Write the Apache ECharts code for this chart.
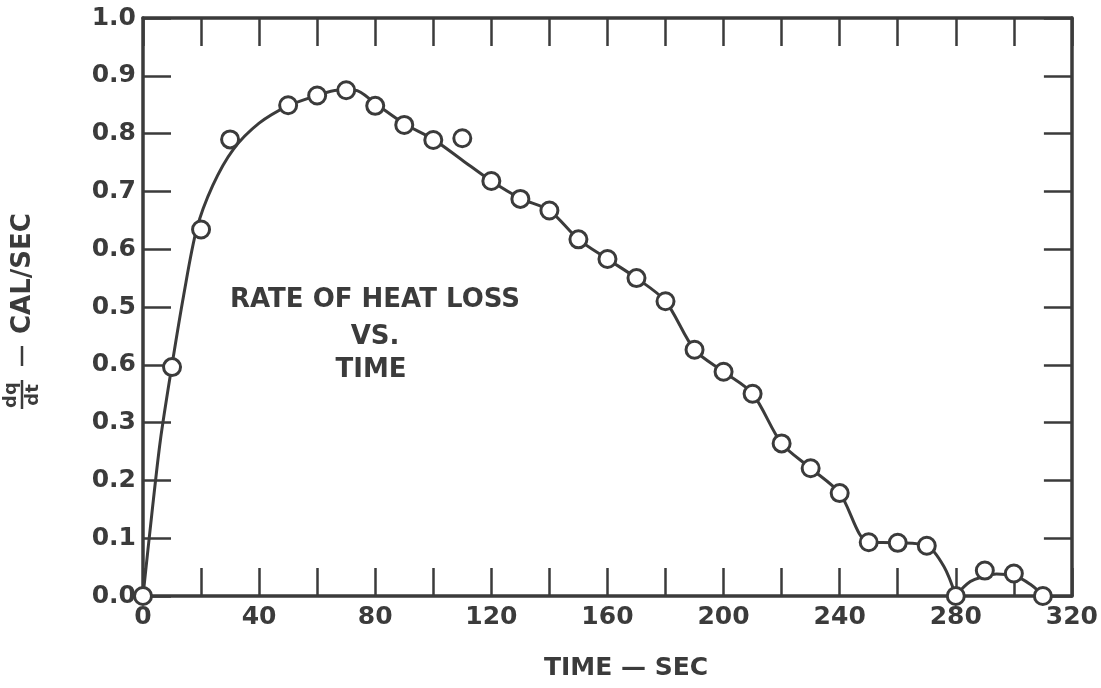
<!DOCTYPE html>
<html>
<head>
<meta charset="utf-8">
<title>Rate of heat loss vs. time</title>
<script src="https://cdn.jsdelivr.net/npm/echarts@6/dist/echarts.min.js"></script>
<style>
  html, body { margin: 0; padding: 0; background: #fff; }
  #main { width: 1101px; height: 688px; }
</style>
</head>
<body>
<div id="main"></div>
<script>
// measured points (circles)
const timeSec = [0, 10, 20, 30, 50, 60, 70, 80, 90, 100, 110, 120, 130, 140, 150, 160, 170, 180, 190, 200, 210, 220, 230, 240, 250, 260, 270, 280, 290, 300, 310];
const heatRate = [0, 0.396, 0.634, 0.79, 0.849, 0.866, 0.875, 0.848, 0.815, 0.789, 0.792, 0.718, 0.687, 0.667, 0.617, 0.583, 0.55, 0.51, 0.426, 0.388, 0.35, 0.264, 0.221, 0.178, 0.093, 0.092, 0.087, 0, 0.044, 0.039, 0];

// hand drawn curve
const curveX = [0, 3, 6, 10, 14, 18.5, 24, 31, 40, 50, 60, 67, 73, 80, 90, 100, 110, 120, 130, 140, 150, 160, 170, 180, 190, 200, 210, 220, 230, 240, 250, 260, 270, 276, 280];
const curveY = [0, 0.14, 0.27, 0.40, 0.52, 0.635, 0.71, 0.772, 0.818, 0.848, 0.866, 0.875, 0.875, 0.852, 0.817, 0.79, 0.754, 0.718, 0.688, 0.667, 0.617, 0.583, 0.55, 0.51, 0.426, 0.388, 0.35, 0.264, 0.221, 0.178, 0.093, 0.092, 0.087, 0.05, 0];
const tailX = [280, 285, 290, 294, 300, 306, 310];
const tailY = [0, 0.025, 0.034, 0.038, 0.035, 0.019, 0];

// tick labels (the 0.4 position is printed as "0.6" in the original)
const xTickLabels = ['0', '40', '80', '120', '160', '200', '240', '280', '320'];
const yTickLabels = ['0.0', '0.1', '0.2', '0.3', '0.6', '0.5', '0.6', '0.7', '0.8', '0.9', '1.0'];
const titleLines = ['RATE OF HEAT LOSS', 'VS.', 'TIME'];

const ink = '#3b3b3b';
const font = '"DejaVu Sans", sans-serif';

function zip(xs, ys) {
  return xs.map(function (x, i) { return [x, ys[i]]; });
}

// frame axis: thick line, inward ticks, no labels
function frameAxis(pos, isX) {
  return {
    type: 'value',
    position: pos,
    min: 0,
    max: isX ? 320 : 1,
    interval: isX ? 20 : 0.1,
    axisLine: { show: true, onZero: false, lineStyle: { color: ink, width: 3.5 } },
    axisTick: { show: true, inside: true, length: 28, lineStyle: { color: ink, width: 2.5 } },
    axisLabel: { show: false },
    splitLine: { show: false }
  };
}

const xBottom = frameAxis('bottom', true);
xBottom.axisLabel = {
  show: true,
  margin: 9,
  fontSize: 25,
  fontFamily: font,
  fontWeight: 'bold',
  color: ink,
  formatter: function (v) {
    return v % 40 === 0 ? xTickLabels[v / 40] : '';
  }
};

const yLeft = frameAxis('left', false);
yLeft.axisLabel = {
  show: true,
  margin: 7,
  fontSize: 25,
  fontFamily: font,
  fontWeight: 'bold',
  color: ink,
  formatter: function (v) {
    return yTickLabels[Math.round(v * 10)];
  }
};

const option = {
  animation: false,
  backgroundColor: '#fff',
  grid: { left: 143, right: 28, top: 18, bottom: 92, containLabel: false },
  xAxis: [xBottom, frameAxis('top', true)],
  yAxis: [yLeft, frameAxis('right', false)],
  series: [
    {
      type: 'line',
      data: zip(curveX, curveY),
      smooth: 0.3,
      symbol: 'none',
      clip: false,
      lineStyle: { color: ink, width: 3 },
      z: 2
    },
    {
      type: 'line',
      data: zip(tailX, tailY),
      smooth: 0.4,
      symbol: 'none',
      clip: false,
      lineStyle: { color: ink, width: 3 },
      z: 2
    },
    {
      type: 'scatter',
      data: zip(timeSec, heatRate),
      symbol: 'circle',
      symbolSize: 17,
      clip: false,
      itemStyle: { color: '#fff', borderColor: ink, borderWidth: 3, opacity: 1 },
      z: 5
    }
  ],
  graphic: [
    { type: 'text', x: 375, y: 300, style: { text: titleLines[0], fill: ink, font: 'bold 26px ' + font, align: 'center', verticalAlign: 'middle' } },
    { type: 'text', x: 375, y: 337, style: { text: titleLines[1], fill: ink, font: 'bold 26px ' + font, align: 'center', verticalAlign: 'middle' } },
    { type: 'text', x: 371, y: 370, style: { text: titleLines[2], fill: ink, font: 'bold 26px ' + font, align: 'center', verticalAlign: 'middle' } },
    // x axis title
    { type: 'text', x: 626, y: 668, style: { text: 'TIME \u2014 SEC', fill: ink, font: 'bold 25px ' + font, align: 'center', verticalAlign: 'middle' } },
    {
      // y axis title: dq/dt - CAL/SEC, rotated
      type: 'group',
      x: 22,
      y: 410,
      rotation: Math.PI / 2,
      children: [
        { type: 'text', x: 15, y: -2, style: { text: 'dq', fill: ink, font: 'bold 18px ' + font, align: 'center', verticalAlign: 'bottom' } },
        { type: 'line', shape: { x1: 1, y1: 0, x2: 30, y2: 0 }, style: { stroke: ink, lineWidth: 2.5 } },
        { type: 'text', x: 15, y: 2, style: { text: 'dt', fill: ink, font: 'bold 18px ' + font, align: 'center', verticalAlign: 'top' } },
        { type: 'line', shape: { x1: 44, y1: 0, x2: 64, y2: 0 }, style: { stroke: ink, lineWidth: 2.5 } },
        { type: 'text', x: 76, y: 1, style: { text: 'CAL/SEC', fill: ink, font: 'bold 26px ' + font, align: 'left', verticalAlign: 'middle' } }
      ]
    }
  ]
};

const myChart = echarts.init(document.getElementById('main'));
myChart.setOption(option);
</script>
</body>
</html>
